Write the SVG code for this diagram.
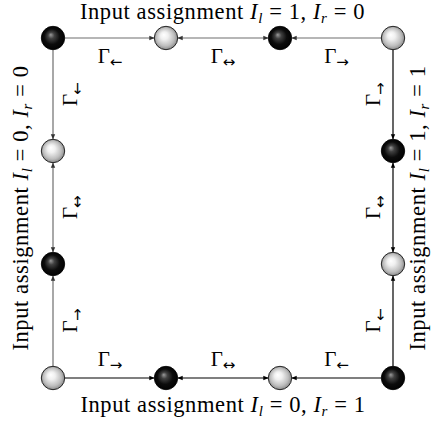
<svg xmlns="http://www.w3.org/2000/svg" width="435" height="423" viewBox="0 0 435 423">
<style>
.t{font-family:"Liberation Serif","DejaVu Serif",serif;fill:#000}
.big{font-size:22.5px;letter-spacing:0.6px}
.lbl{font-size:21px}
.sub{font-family:"DejaVu Sans",sans-serif;font-size:15px}
.ms{font-size:15px}
.it{font-style:italic}
.eg{stroke:#6e6e6e;stroke-width:1.2;fill:none}
.ek{stroke:#000;stroke-width:1.2;fill:none}
.nb{fill:url(#gb);stroke:#000;stroke-width:0.8}
.nw{fill:url(#gw);stroke:#000;stroke-width:0.8}
</style>
<defs>
<radialGradient id="gb" cx="0.5" cy="0.5" r="0.55" fx="0.4" fy="0.36">
<stop offset="0" stop-color="#9a9a9a"/>
<stop offset="0.25" stop-color="#404040"/>
<stop offset="0.6" stop-color="#0c0c0c"/>
<stop offset="1" stop-color="#000"/>
</radialGradient>
<radialGradient id="gw" cx="0.5" cy="0.5" r="0.55" fx="0.4" fy="0.36">
<stop offset="0" stop-color="#fff"/>
<stop offset="0.3" stop-color="#f0f0f0"/>
<stop offset="0.7" stop-color="#bdbdbd"/>
<stop offset="1" stop-color="#7a7a7a"/>
</radialGradient>
<marker id="ag" viewBox="0 0 5 6" refX="5" refY="3" markerWidth="5" markerHeight="6" markerUnits="userSpaceOnUse" orient="auto-start-reverse">
<path d="M0,0.8 L5,3 L0,5.2 z" fill="#333"/>
</marker>
<marker id="ak" viewBox="0 0 5 6" refX="5" refY="3" markerWidth="5" markerHeight="6" markerUnits="userSpaceOnUse" orient="auto-start-reverse">
<path d="M0,0.8 L5,3 L0,5.2 z" fill="#000"/>
</marker>
</defs>

<g id="connectors">
<line class="eg" x1="64.7" y1="38" x2="154.3" y2="38" marker-end="url(#ag)"/>
<line class="eg" x1="177.7" y1="38" x2="268.3" y2="38" marker-start="url(#ag)" marker-end="url(#ag)"/>
<line class="eg" x1="381.3" y1="38" x2="291.7" y2="38" marker-end="url(#ag)"/>
<line class="eg" x1="53" y1="49.7" x2="53" y2="139.3" marker-end="url(#ag)"/>
<line class="eg" x1="53" y1="162.7" x2="53" y2="252.3" marker-start="url(#ag)" marker-end="url(#ag)"/>
<line class="eg" x1="53" y1="366.3" x2="53" y2="275.7" marker-end="url(#ag)"/>
<line class="ek" x1="393" y1="49.7" x2="393" y2="139.3" marker-end="url(#ak)"/>
<line class="ek" x1="393" y1="162.7" x2="393" y2="252.3" marker-start="url(#ak)" marker-end="url(#ak)"/>
<line class="ek" x1="393" y1="366.3" x2="393" y2="275.7" marker-end="url(#ak)"/>
<line class="ek" x1="64.7" y1="378" x2="154.3" y2="378" marker-end="url(#ak)"/>
<line class="ek" x1="177.7" y1="378" x2="268.3" y2="378" marker-start="url(#ak)" marker-end="url(#ak)"/>
<line class="ek" x1="381.3" y1="378" x2="291.7" y2="378" marker-end="url(#ak)"/>
</g>

<g id="edge-labels">
<text class="t lbl" x="110" y="63" text-anchor="middle">Γ<tspan class="sub" dy="3.5">←</tspan></text>
<text class="t lbl" x="223" y="63" text-anchor="middle">Γ<tspan class="sub" dy="3.5">↔</tspan></text>
<text class="t lbl" x="336.5" y="63" text-anchor="middle">Γ<tspan class="sub" dy="3.5">→</tspan></text>
<text class="t lbl" x="110" y="366" text-anchor="middle">Γ<tspan class="sub" dy="3.5">→</tspan></text>
<text class="t lbl" x="223" y="366" text-anchor="middle">Γ<tspan class="sub" dy="3.5">↔</tspan></text>
<text class="t lbl" x="336.5" y="366" text-anchor="middle">Γ<tspan class="sub" dy="3.5">←</tspan></text>
<text class="t lbl" transform="translate(77,106) rotate(-90)">Γ<tspan class="sub" dy="-5.8" rotate="90">↓</tspan></text>
<text class="t lbl" transform="translate(77,219) rotate(-90)">Γ<tspan class="sub" dy="-5.8" rotate="90">↕</tspan></text>
<text class="t lbl" transform="translate(77,332.5) rotate(-90)">Γ<tspan class="sub" dy="-5.8" rotate="90">↑</tspan></text>
<text class="t lbl" transform="translate(380,106) rotate(-90)">Γ<tspan class="sub" dy="-5.8" rotate="90">↑</tspan></text>
<text class="t lbl" transform="translate(380,219) rotate(-90)">Γ<tspan class="sub" dy="-5.8" rotate="90">↕</tspan></text>
<text class="t lbl" transform="translate(380,332.5) rotate(-90)">Γ<tspan class="sub" dy="-5.8" rotate="90">↓</tspan></text>
</g>

<g id="titles">
<text class="t big" x="222.5" y="18.5" text-anchor="middle">Input assignment <tspan class="it">I</tspan><tspan class="it ms" dy="4">l</tspan><tspan dy="-4"> = 1, </tspan><tspan class="it">I</tspan><tspan class="it ms" dy="4">r</tspan><tspan dy="-4"> = 0</tspan></text>
<text class="t big" x="223" y="412" text-anchor="middle">Input assignment <tspan class="it">I</tspan><tspan class="it ms" dy="4">l</tspan><tspan dy="-4"> = 0, </tspan><tspan class="it">I</tspan><tspan class="it ms" dy="4">r</tspan><tspan dy="-4"> = 1</tspan></text>
<text class="t big" transform="translate(27.5,208) rotate(-90)" text-anchor="middle">Input assignment <tspan class="it">I</tspan><tspan class="it ms" dy="4">l</tspan><tspan dy="-4"> = 0, </tspan><tspan class="it">I</tspan><tspan class="it ms" dy="4">r</tspan><tspan dy="-4"> = 0</tspan></text>
<text class="t big" transform="translate(424.5,208) rotate(-90)" text-anchor="middle">Input assignment <tspan class="it">I</tspan><tspan class="it ms" dy="4">l</tspan><tspan dy="-4"> = 1, </tspan><tspan class="it">I</tspan><tspan class="it ms" dy="4">r</tspan><tspan dy="-4"> = 1</tspan></text>
</g>

<g id="n-t1"><circle class="nb" cx="53" cy="38" r="11.7"/></g>
<g id="n-t2"><circle class="nw" cx="166" cy="38" r="11.7"/></g>
<g id="n-t3"><circle class="nb" cx="280" cy="38" r="11.7"/></g>
<g id="n-t4"><circle class="nw" cx="393" cy="38" r="11.7"/></g>
<g id="n-r2"><circle class="nb" cx="393" cy="151" r="11.7"/></g>
<g id="n-r3"><circle class="nw" cx="393" cy="264" r="11.7"/></g>
<g id="n-b4"><circle class="nb" cx="393" cy="378" r="11.7"/></g>
<g id="n-b3"><circle class="nw" cx="280" cy="378" r="11.7"/></g>
<g id="n-b2"><circle class="nb" cx="166" cy="378" r="11.7"/></g>
<g id="n-b1"><circle class="nw" cx="53" cy="378" r="11.7"/></g>
<g id="n-l3"><circle class="nb" cx="53" cy="264" r="11.7"/></g>
<g id="n-l2"><circle class="nw" cx="53" cy="151" r="11.7"/></g>
</svg>
